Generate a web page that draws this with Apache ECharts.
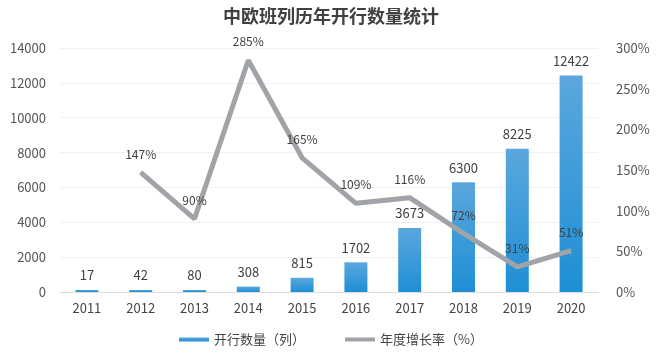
<!DOCTYPE html>
<html><head><meta charset="utf-8">
<script src="https://cdn.jsdelivr.net/npm/echarts@6/dist/echarts.min.js"></script>
<style>html,body{margin:0;padding:0;background:#fff}#c{width:662px;height:355px}</style>
</head><body><div id="c"></div>
<script>
const years = ['2011','2012','2013','2014','2015','2016','2017','2018','2019','2020'];
const trains = [17,42,80,308,815,1702,3673,6300,8225,12422];
const growth = [null,147,90,285,165,109,116,72,31,51];
const leftTicks = [0,2000,4000,6000,8000,10000,12000,14000];
const rightTicks = [0,50,100,150,200,250,300];

const chart = echarts.init(document.getElementById('c'));
const font = '"Noto Sans CJK SC", "Noto Sans", sans-serif';
chart.setOption({
  animation:false,
  textStyle:{fontFamily:font},
  title:{text:'中欧班列历年开行数量统计',left:'center',top:2,
    textStyle:{fontSize:18,fontWeight:'bold',color:'#404040',fontFamily:font}},
  legend:{bottom:4,left:'center',itemGap:40,itemWidth:30,itemHeight:4,
    textStyle:{fontSize:13,color:'#444'},
    data:[{name:'开行数量（列）',icon:'rect'},{name:'年度增长率（%）',icon:'rect'}]},
  grid:{left:60,right:64,top:48,bottom:63},
  xAxis:{type:'category',data:years,
    axisLine:{lineStyle:{color:'#ddd'}},axisTick:{show:false},
    axisLabel:{fontSize:13,color:'#444',margin:10}},
  yAxis:[
    {type:'value',min:0,max:14000,interval:2000,
      axisLabel:{fontSize:13,color:'#555',margin:14,formatter:function(v){return String(v);}},
      splitLine:{lineStyle:{color:'#f0f0f0'}},axisLine:{show:false},axisTick:{show:false}},
    {type:'value',min:0,max:300,interval:50,
      axisLabel:{fontSize:13,color:'#555',formatter:'{value}%',margin:18},
      splitLine:{show:false},axisLine:{show:false},axisTick:{show:false}}
  ],
  series:[
    {name:'开行数量（列）',type:'bar',data:trains,barWidth:23,barMinHeight:2,
      itemStyle:{color:new echarts.graphic.LinearGradient(0,0,0,1,[
        {offset:0,color:'#5ba7dd'},{offset:1,color:'#1e8fd5'}])},
      label:{show:true,position:'top',distance:8,fontSize:13,color:'#404040'}},
    {name:'年度增长率（%）',type:'line',yAxisIndex:1,data:growth,
      showSymbol:true,symbol:'circle',symbolSize:1,connectNulls:false,
      lineStyle:{width:5,color:'#a0a3a7'},itemStyle:{color:'#a0a3a7'},
      label:{show:true,position:'top',distance:12,fontSize:12,color:'#404040',formatter:'{c}%'}}
  ]
});
</script></body></html>
